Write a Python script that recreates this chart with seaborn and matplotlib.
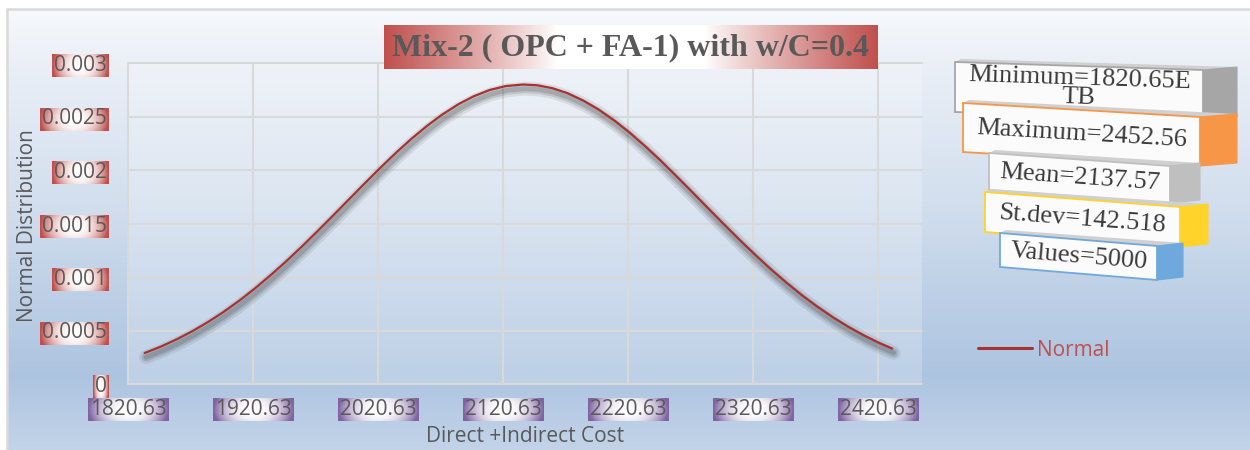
import numpy as np
import matplotlib
matplotlib.use("Agg")
import matplotlib.pyplot as plt
import seaborn as sns
from matplotlib import patheffects as pe
from matplotlib.patches import Polygon

# ---- data -------------------------------------------------------------
cost = [1834, 1847, 1860, 1872, 1885, 1897, 1910, 1922, 1935, 1947, 1960,
        1972, 1985, 1997, 2010, 2022, 2035, 2047, 2060, 2072, 2085, 2097,
        2110, 2123, 2137, 2148, 2160, 2172, 2185, 2197, 2210, 2222, 2235,
        2247, 2260, 2272, 2285, 2297, 2310, 2322, 2335, 2347, 2360, 2372,
        2385, 2397, 2410, 2421, 2432]
density = [0.000290, 0.000350, 0.000420, 0.000493, 0.000582, 0.000673,
           0.000782, 0.000892, 0.001020, 0.001145, 0.001288, 0.001426,
           0.001578, 0.001721, 0.001875, 0.002015, 0.002161, 0.002288,
           0.002414, 0.002518, 0.002615, 0.002688, 0.002748, 0.002785,
           0.002799, 0.002792, 0.002765, 0.002719, 0.002648, 0.002566,
           0.002460, 0.002349, 0.002216, 0.002085, 0.001935, 0.001794,
           0.001639, 0.001497, 0.001346, 0.001212, 0.001072, 0.000951,
           0.000828, 0.000724, 0.000620, 0.000534, 0.000450, 0.000387,
           0.000331]
x_ticks = [1820.63, 1920.63, 2020.63, 2120.63, 2220.63, 2320.63, 2420.63]
x_tick_labels = ["1820.63", "1920.63", "2020.63", "2120.63", "2220.63",
                 "2320.63", "2420.63"]
y_ticks = [0, 0.0005, 0.001, 0.0015, 0.002, 0.0025, 0.003]
y_tick_labels = ["0", "0.0005", "0.001", "0.0015", "0.002", "0.0025", "0.003"]
x_max = 2455.83

title = "Mix-2 ( OPC + FA-1) with w/C=0.4"
stat_labels = ["Minimum=1820.65E\nTB", "Maximum=2452.56", "Mean=2137.57",
               "St.dev=142.518", "Values=5000"]
stat_colors = ["#a6a6a6", "#f79646", "#bfbfbf", "#ffd32a", "#6fa8dc"]

# ---- style ------------------------------------------------------------
sns.set_style("white")
plt.rcParams["font.family"] = ["Open Sans", "DejaVu Sans"]
TXT = "#595959"

W, H = 1250, 450
fig = plt.figure(figsize=(W / 100, H / 100), dpi=100)
fig.patch.set_facecolor("white")


def hex_rgb(h):
    h = h.lstrip("#")
    return np.array([int(h[i:i + 2], 16) for i in (0, 2, 4)]) / 255.0


# chart-area background: vertical gradient inside the frame
stops_y = [9, 60, 200, 300, 375, 450]
stops_c = [hex_rgb(c) for c in ["#f6f9fc", "#ebf0f7", "#d3dfee",
                                "#bccfe6", "#adc4e0", "#c3d4e9"]]
bg = np.ones((H, W, 3))
rows = np.arange(H)
grad = np.stack([np.interp(rows, stops_y, [c[k] for c in stops_c])
                 for k in range(3)], axis=1)
bg[9:, 7:, :] = grad[9:, None, :]
fig.figimage(bg, 0, 0, zorder=-5, origin="upper")

# ---- main axes --------------------------------------------------------
ax = fig.add_axes([128 / W, 1 - 384 / H, 794 / W, 321 / H])
ax.set_facecolor((1, 1, 1, 0.22))

shadow = [
    pe.SimpleLineShadow(offset=(1, -3), shadow_color="#3a3a3a", alpha=0.10, linewidth=10),
    pe.SimpleLineShadow(offset=(1, -3), shadow_color="#3a3a3a", alpha=0.15, linewidth=6.5),
    pe.SimpleLineShadow(offset=(1, -3), shadow_color="#3a3a3a", alpha=0.20, linewidth=3.5),
    pe.Normal(),
]
sns.lineplot(x=cost, y=density, ax=ax, color="#a8322f", lw=1.6,
             label="Normal", path_effects=shadow)

ax.set_xlim(x_ticks[0], x_max)
ax.set_ylim(y_ticks[0], y_ticks[-1])
ax.set_xticks(x_ticks)
ax.set_xticklabels(x_tick_labels)
ax.set_yticks(y_ticks)
ax.set_yticklabels(y_tick_labels)
ax.grid(True, color="#d9d9d9", lw=1.5)
for gl in ax.get_xgridlines() + ax.get_ygridlines():
    gl.set_clip_on(False)
for s in ax.spines.values():
    s.set_visible(False)
ax.tick_params(length=0, labelsize=15, labelcolor=TXT)
ax.tick_params(axis="y", pad=15)
ax.tick_params(axis="x", pad=11)

ax.set_xlabel("Direct +Indirect Cost", fontsize=15, color=TXT)
ax.set_ylabel("Normal Distribution", fontsize=15, color=TXT)
ax.xaxis.label.set_va("center")
ax.yaxis.label.set_va("center")
ax.xaxis.set_label_coords(0.5, -0.165)
ax.yaxis.set_label_coords(-0.127, 0.495)

leg = ax.legend(loc="center left", bbox_to_anchor=(978 / W, 1 - 350 / H),
                bbox_transform=fig.transFigure, frameon=False, fontsize=15,
                handlelength=2.6, handletextpad=0.25, labelcolor="#c0504d",
                borderaxespad=0, borderpad=0)
for hl in leg.get_lines():
    hl.set_path_effects([])
    hl.set_linewidth(2.2)

# ---- gradient boxes behind the tick labels ----------------------------
def centre_box(w, h, rgb):
    u = np.linspace(-1, 1, w)
    v = np.linspace(-1, 1, h)
    U, V = np.meshgrid(u, v)
    t = np.clip(np.sqrt(U ** 2 + 0.18 * V ** 2), 0, 1) ** 2.4
    return (1 - t)[..., None] + t[..., None] * rgb


fig.canvas.draw()
rend = fig.canvas.get_renderer()
for labels, col in ((ax.get_yticklabels(), "#c0504d"),
                    (ax.get_xticklabels(), "#8064a2")):
    for lbl in labels:
        bb = lbl.get_window_extent(rend)
        x0, y0 = int(round(bb.x0)) - 2, int(round(bb.y0)) - 1
        w, h = int(round(bb.width)) + 4, int(round(bb.height)) + 2
        fig.figimage(centre_box(w, h, hex_rgb(col)), x0, y0,
                     zorder=-1, origin="upper")

# ---- title box ---------------------------------------------------------
tx0, tx1, ty0, ty1 = 384, 878, 25, 69
u = np.linspace(-1, 1, tx1 - tx0)
t = np.clip((np.abs(u) - 0.3) / 0.7, 0, 1) ** 0.9
row = (1 - t)[:, None] + t[:, None] * hex_rgb("#c0504d")
title_img = np.repeat(row[None, :, :], ty1 - ty0, axis=0)
fig.figimage(title_img, tx0, H - ty1, zorder=2, origin="upper")

# ---- overlay in pixel coordinates ---------------------------------------
ov = fig.add_axes([0, 0, 1, 1], zorder=5)
ov.set_xlim(0, W)
ov.set_ylim(H, 0)
ov.axis("off")
ov.patch.set_alpha(0)

ov.plot([7, 7, W], [H, 9, 9], color="#d9d9d9", lw=1.8, solid_joinstyle="miter")
ov.text((tx0 + tx1) / 2, (ty0 + ty1) / 2 + 1, title, ha="center", va="center",
        fontsize=23, fontweight="bold", color=TXT, family="Liberation Serif")

# stacked statistic blocks: front face, coloured side face
geom = [  # x0, x1, top-left y, bottom-left y, drop to the right, side width, text y shift
    (955, 1203, 62, 112, 8, 34, -3),
    (963, 1200, 103, 152, 14, 37, 0),
    (989, 1170, 153, 190, 13, 30, 0),
    (985, 1180, 192, 232, 15, 28, 0),
    (1000, 1157, 233, 267, 13, 26, 0),
]
for (x0, x1, yt, yb, d, sw, dy), col, txt in zip(geom, stat_colors, stat_labels):
    side = Polygon([(x1, yt + d), (x1 + sw, yt + d - 3), (x1 + sw, yb + d - 3),
                    (x1, yb + d)], closed=True, facecolor=col,
                   edgecolor=col, lw=0.8)
    top = Polygon([(x0, yt), (x0 + 6, yt - 3), (x1 + sw, yt + d - 3),
                   (x1, yt + d)], closed=True, facecolor="#d0d0d0",
                  edgecolor="none")
    front = Polygon([(x0, yt), (x1, yt + d), (x1, yb + d), (x0, yb)],
                    closed=True, facecolor="#fbfbfb", edgecolor=col, lw=1.3)
    for p in (top, side, front):
        ov.add_patch(p)
    ang = -np.degrees(np.arctan2(d, x1 - x0))
    ov.text((x0 + x1) / 2, (yt + yb + d) / 2 + dy, txt, ha="center",
            va="center", rotation=ang, rotation_mode="anchor", fontsize=19,
            family="Liberation Serif", color="#3a3a3a", linespacing=0.85)

fig.savefig("out.png", dpi=100)
